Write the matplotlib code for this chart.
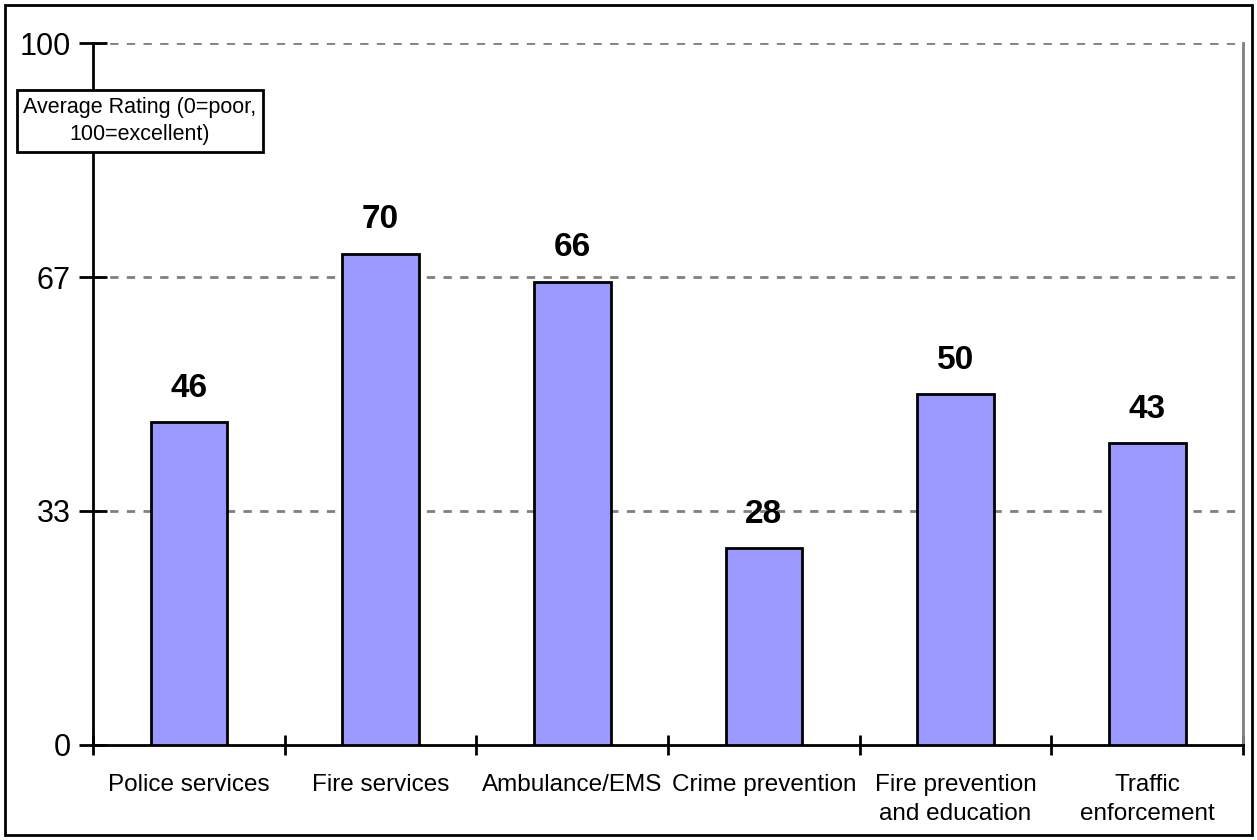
import matplotlib
matplotlib.use("Agg")
import matplotlib.pyplot as plt
from matplotlib.patches import Rectangle
import numpy as np

plt.rcParams["font.family"] = ["Liberation Sans", "DejaVu Sans"]

categories = ["Police services", "Fire services", "Ambulance/EMS", "Crime prevention",
              "Fire prevention\nand education", "Traffic\nenforcement"]
ratings = [46, 70, 66, 28, 50, 43]
ytick_vals = [0, 100 / 3, 200 / 3, 100]
ytick_labels = ["0", "33", "67", "100"]

fig = plt.figure(figsize=(12.57, 8.4), dpi=100)
ax = fig.add_axes([0.074, 0.1131, 0.9149, 0.8357])

x = np.arange(len(categories))
ax.bar(x, ratings, width=0.4, color="#9999FF", edgecolor="black", linewidth=2, zorder=3)
for xi, v in zip(x, ratings):
    ax.text(xi, v + 2.6, str(v), ha="center", va="bottom", fontsize=24, fontweight="bold")

ax.set_xlim(-0.5, len(categories) - 0.5)
ax.set_ylim(0, 100)
ax.set_yticks(ytick_vals)
ax.set_yticklabels(ytick_labels, fontsize=22)
ax.set_xticks(x)
ax.set_xticklabels(categories, fontsize=17.5, linespacing=1.38)
ax.tick_params(axis="x", length=0, pad=21)
ax.set_xticks(np.arange(-0.5, len(categories)), minor=True)
ax.tick_params(axis="x", which="minor", direction="inout", length=15, width=2)
ax.tick_params(axis="y", direction="inout", length=20, width=2, pad=6)

for yv in ytick_vals[1:]:
    ax.axhline(yv, color="#808080", linestyle=(0, (3, 3)), linewidth=2, zorder=1)

ax.spines["left"].set_linewidth(2)
ax.spines["bottom"].set_linewidth(2)
ax.spines["top"].set_visible(False)
ax.spines["right"].set_color("#808080")
ax.spines["right"].set_linewidth(2)

ax.text(0.1114, 0.856, "Average Rating (0=poor,\n100=excellent)", transform=fig.transFigure,
        ha="center", va="center", fontsize=15.5, linespacing=1.4,
        bbox=dict(boxstyle="square,pad=0.3", facecolor="white", edgecolor="black", linewidth=2),
        zorder=5)

fig.patches.append(Rectangle((0.004, 0.006), 0.992, 0.988, transform=fig.transFigure,
                             fill=False, edgecolor="black", linewidth=2))

fig.savefig("out.png", dpi=100)
